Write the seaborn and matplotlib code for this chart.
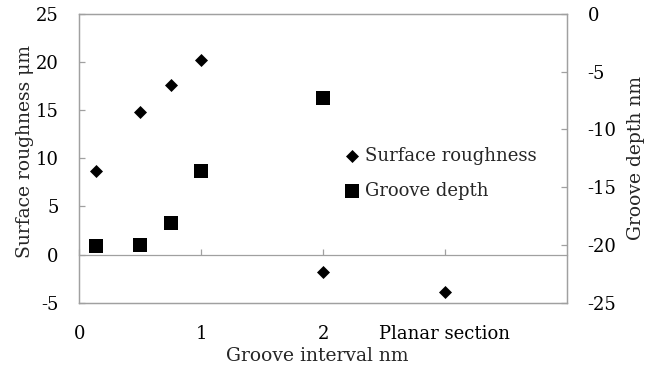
import matplotlib
matplotlib.use('Agg')
import matplotlib.pyplot as plt
import seaborn as sns

# ---- data ----
interval_pos = [0.14, 0.5, 0.75, 1, 2, 3]
roughness = [8.7, 14.8, 17.6, 20.2, -1.8, -3.9]
depth_pos = [0.14, 0.5, 0.75, 1, 2]
depth = [-20.1, -20.0, -18.1, -13.6, -7.3]
tick_pos = [0, 1, 2, 3]
tick_labels = ['0', '1', '2', 'Planar section']
left_ticks = [-5, 0, 5, 10, 15, 20, 25]
right_ticks = [-25, -20, -15, -10, -5, 0]

sns.set_style('white')
plt.rcParams['font.family'] = ['DejaVu Serif']
plt.rcParams['font.size'] = 13
plt.rcParams['mathtext.fontset'] = 'dejavuserif'
plt.rcParams['axes.unicode_minus'] = False

GRAY = '#a0a0a0'
LW = 0.9

fig = plt.figure(figsize=(6.6, 3.69), dpi=100)
ax = fig.add_axes([0.1202, 0.1797, 0.7384, 0.7824])
ax2 = ax.twinx()

sns.scatterplot(x=interval_pos, y=roughness, ax=ax, marker='D', s=44,
                color='black', linewidth=0, label='Surface roughness', legend=False)
sns.scatterplot(x=depth_pos, y=depth, ax=ax2, marker='s', s=94,
                color='black', linewidth=0, label='Groove depth', legend=False)

ax.set_xlim(0, 4)
ax.set_ylim(left_ticks[0], left_ticks[-1])
ax2.set_ylim(right_ticks[0], right_ticks[-1])

for a in (ax, ax2):
    for sp in a.spines.values():
        sp.set_color(GRAY)
        sp.set_linewidth(LW)
        sp.set_visible(True)

ax.set_xticks(tick_pos, tick_labels)
ax.tick_params(axis='x', length=0, pad=16, labelsize=13, colors='black')
ax.set_yticks(left_ticks)
ax.tick_params(axis='y', direction='in', length=4.3, width=LW, color=GRAY,
               pad=15, labelsize=13, labelcolor='black')
ax2.set_yticks(right_ticks)
ax2.tick_params(axis='y', direction='in', length=4.3, width=LW, color=GRAY,
                pad=15, labelsize=13, labelcolor='black')

# zero line of the primary axis with inward ticks
y0, y1 = ax.get_ylim()
sec = ax.secondary_xaxis((0 - y0) / (y1 - y0))
sec.set_xticks(tick_pos)
sec.tick_params(direction='in', length=4.3, width=LW, color=GRAY,
                labelbottom=False, labeltop=False)
for sp in sec.spines.values():
    sp.set_color(GRAY)
    sp.set_linewidth(LW)

ax.set_ylabel('Surface roughness μm', fontsize=13.5)
ax.yaxis.set_label_coords(-0.094, 0.522)
ax2.set_ylabel('Groove depth nm', fontsize=13.5)
ax2.yaxis.set_label_coords(1.123, 0.5)
ax.set_xlabel('Groove interval nm', fontsize=13.5)
ax.xaxis.set_label_coords(0.488, -0.152)

h1, l1 = ax.get_legend_handles_labels()
h2, l2 = ax2.get_legend_handles_labels()
ax2.legend(h1 + h2, l1 + l2, loc='upper left', bbox_to_anchor=(0.54, 0.541),
           frameon=False, handlelength=1.0, handletextpad=0.25,
           labelspacing=0.97, borderpad=0, borderaxespad=0, fontsize=13,
           scatterpoints=1)

fig.savefig('out.png', dpi=100)
